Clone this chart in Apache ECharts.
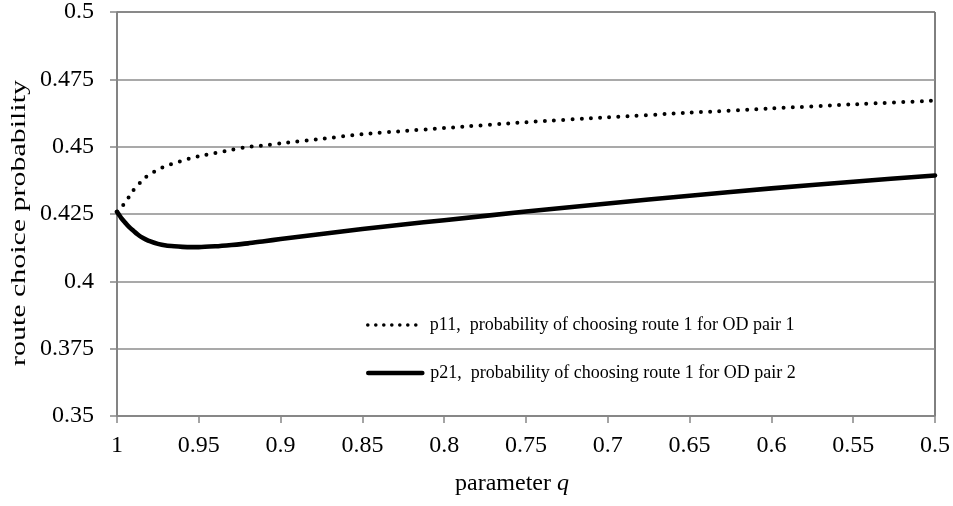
<!DOCTYPE html>
<html>
<head>
<meta charset="utf-8">
<script src="https://cdn.jsdelivr.net/npm/echarts@6/dist/echarts.min.js"></script>
<style>html,body{margin:0;padding:0;background:#fff}#c{width:953px;height:506px}</style>
</head>
<body>
<div id="c"></div>
<script>
var qValues = [1, 0.9975, 0.995, 0.9925, 0.99, 0.9875, 0.985, 0.9825, 0.98, 0.975, 0.97, 0.965, 0.96, 0.955, 0.95, 0.94, 0.93, 0.92, 0.91, 0.9, 0.875, 0.85, 0.825, 0.8, 0.75, 0.7, 0.65, 0.6, 0.55, 0.5];
var p11 = [0.4258, 0.4275, 0.4291, 0.4316, 0.4338, 0.4355, 0.4372, 0.4386, 0.4397, 0.4415, 0.4428, 0.4439, 0.4448, 0.4457, 0.4464, 0.4476, 0.4488, 0.4499, 0.4505, 0.4512, 0.4529, 0.4546, 0.4558, 0.4569, 0.4591, 0.4609, 0.4626, 0.4642, 0.4657, 0.4671];
var p21 = [0.4258, 0.4236, 0.4218, 0.4201, 0.4188, 0.4175, 0.4164, 0.4156, 0.4149, 0.4139, 0.4133, 0.4130, 0.4128, 0.4127, 0.4127, 0.4130, 0.4135, 0.4141, 0.4149, 0.4157, 0.4176, 0.4194, 0.4211, 0.4227, 0.4259, 0.4289, 0.4318, 0.4345, 0.4370, 0.4393];
var seriesNames = ['p11,  probability of choosing route 1 for OD pair 1', 'p21,  probability of choosing route 1 for OD pair 2'];
var yTitle = 'route choice probability';
var xTitle = 'parameter ';
var xTitleVar = 'q';

function pairs(vals) { return qValues.map(function (q, i) { return [q, vals[i]]; }); }

var FONT = "'Liberation Serif', 'Times New Roman', serif";
var chart = echarts.init(document.getElementById('c'), null, { renderer: 'canvas' });
var legendText = { color: '#000', fontFamily: FONT, fontSize: 18 };
var hiddenSymbol = { color: 'transparent', borderColor: 'transparent', borderWidth: 0, opacity: 0 };
chart.setOption({
  animation: false,
  backgroundColor: '#fff',
  grid: { left: 117, right: 16, top: 10, bottom: 90, show: true, borderColor: '#000', borderWidth: 1, backgroundColor: 'transparent' },
  xAxis: {
    type: 'value', min: 0.5, max: 1, interval: 0.05, inverse: true,
    axisLine: { show: true, onZero: false, lineStyle: { color: '#868686', width: 1.5 } },
    axisTick: { show: true, length: 7, lineStyle: { color: '#868686', width: 1.5 } },
    axisLabel: { margin: 18, color: '#000', fontFamily: FONT, fontSize: 24 },
    splitLine: { show: false },
    name: xTitle + '{i|' + xTitleVar + '}',
    nameLocation: 'middle', nameGap: 56,
    nameTextStyle: { color: '#000', fontFamily: FONT, fontSize: 24, padding: [0, 28, 0, 0],
      rich: { i: { fontStyle: 'italic', fontFamily: FONT, fontSize: 24, color: '#000' } } }
  },
  yAxis: {
    type: 'value', min: 0.35, max: 0.5, interval: 0.025,
    axisLine: { show: true, onZero: false, lineStyle: { color: '#868686', width: 1.5 } },
    axisTick: { show: true, length: 7, lineStyle: { color: '#868686', width: 1.5 } },
    axisLabel: { margin: 23, color: '#000', fontFamily: FONT, fontSize: 24 },
    splitLine: { show: true, lineStyle: { color: '#8c8c8c', width: 1.5 } }
  },
  graphic: [{
    type: 'text', x: 19, y: 223, rotation: Math.PI / 2, scaleX: 1.36,
    style: { text: yTitle, font: '22px ' + FONT, fill: '#000', align: 'center', verticalAlign: 'middle' }
  }],
  legend: [{
    orient: 'vertical', padding: 0, left: 366, top: 316, itemWidth: 50, itemHeight: 14,
    data: [seriesNames[0]],
    itemStyle: hiddenSymbol,
    lineStyle: { color: '#000', width: 3.6, type: [0, 8], cap: 'round' },
    textStyle: Object.assign({}, legendText, { padding: [0, 0, 0, 7] })
  }, {
    orient: 'vertical', padding: 0, left: 366, top: 364, itemWidth: 54, itemHeight: 14,
    data: [seriesNames[1]],
    itemStyle: hiddenSymbol,
    lineStyle: { color: '#000', width: 4.6, type: 'solid', cap: 'round' },
    textStyle: Object.assign({}, legendText, { padding: [0, 0, 0, 3] })
  }],
  series: [{
    name: seriesNames[0], type: 'line', data: pairs(p11), symbol: 'none', showSymbol: false, smooth: 0.25,
    lineStyle: { color: '#000', width: 4, type: [0, 9.2], cap: 'round' },
    itemStyle: { color: '#000' }
  }, {
    name: seriesNames[1], type: 'line', data: pairs(p21), symbol: 'none', showSymbol: false, smooth: 0.25,
    lineStyle: { color: '#000', width: 4.6, cap: 'round' },
    itemStyle: { color: '#000' }
  }]
});
</script>
</body>
</html>
